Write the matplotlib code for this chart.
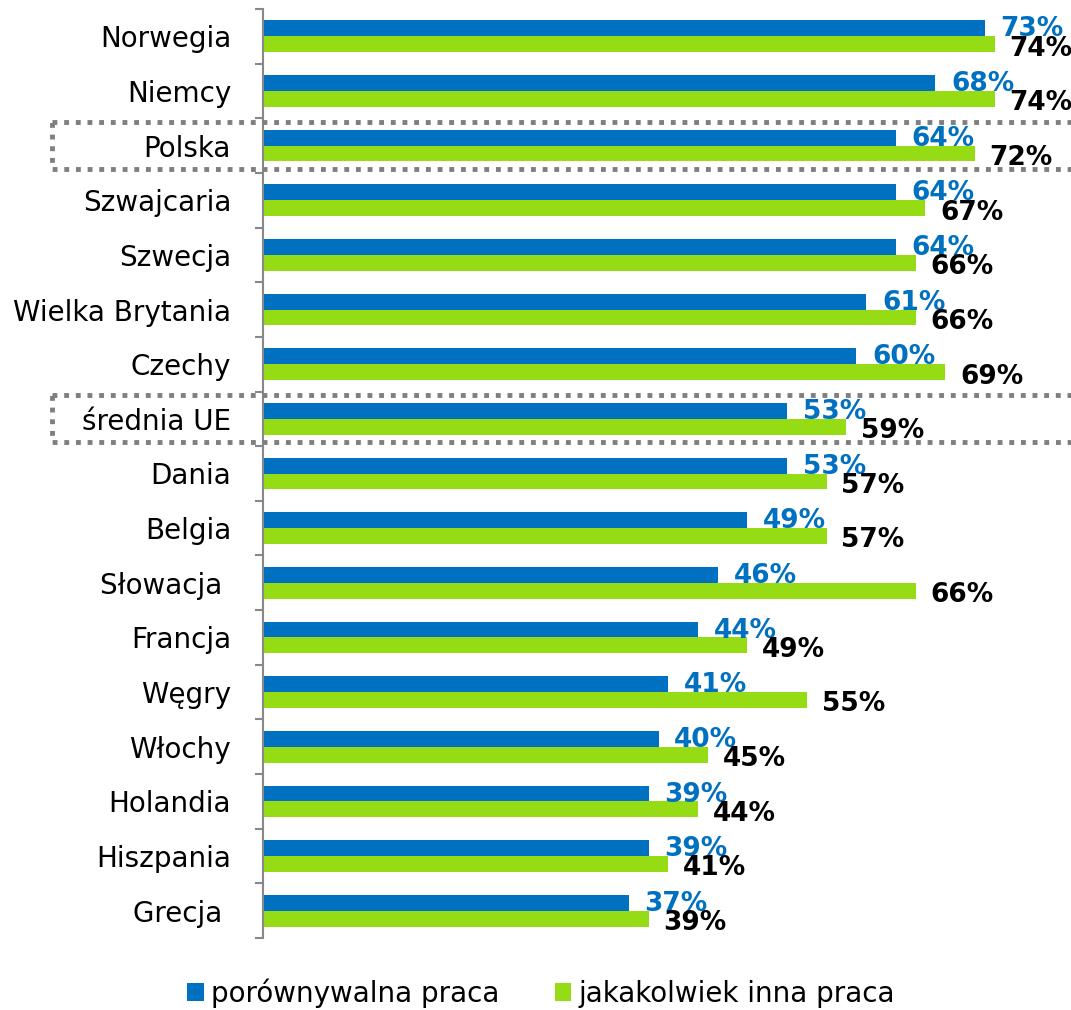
import numpy as np
import matplotlib
matplotlib.use('Agg')
import matplotlib.pyplot as plt
from matplotlib.patches import Rectangle
from matplotlib.transforms import blended_transform_factory

# dane
kraje = ['Norwegia', 'Niemcy', 'Polska', 'Szwajcaria', 'Szwecja', 'Wielka Brytania',
         'Czechy', 'średnia UE', 'Dania', 'Belgia', 'Słowacja ', 'Francja', 'Węgry',
         'Włochy', 'Holandia', 'Hiszpania', 'Grecja ']
porownywalna = [73, 68, 64, 64, 64, 61, 60, 53, 53, 49, 46, 44, 41, 40, 39, 39, 37]
inna = [74, 74, 72, 67, 66, 66, 69, 59, 57, 57, 66, 49, 55, 45, 44, 41, 39]
ramki = ['Polska', 'średnia UE']

niebieski = '#0070C0'
zielony = '#96DC14'

fig = plt.figure(figsize=(10.71, 10.10), dpi=100)
ax = fig.add_axes([263/1071, 1 - 938/1010, 791/1071, 929/1010])

y = np.arange(len(kraje))
h = 0.29
ax.barh(y - h/2, porownywalna, height=h, color=niebieski, label='porównywalna praca')
ax.barh(y + h/2, inna, height=h, color=zielony, label='jakakolwiek inna praca')

for i in range(len(kraje)):
    ax.text(porownywalna[i] + 1.6, y[i] - h/2 + 0.02, f'{porownywalna[i]}%', color=niebieski,
            fontsize=19, fontweight='bold', va='center', ha='left', clip_on=False)
    ax.text(inna[i] + 1.5, y[i] + h/2 + 0.08, f'{inna[i]}%', color='black',
            fontsize=19, fontweight='bold', va='center', ha='left', clip_on=False)

ax.set_xlim(0, 80)
ax.set_ylim(len(kraje) - 0.5, -0.5)
ax.set_yticks(y)
ax.set_yticklabels(kraje, fontsize=20)
ax.set_yticks(np.arange(-0.5, len(kraje)), minor=True)
ax.tick_params(axis='y', which='major', length=0, pad=23)
ax.tick_params(axis='y', which='minor', length=6, width=1.5, color='#888888')
ax.set_xticks([])
for s in ['top', 'right', 'bottom']:
    ax.spines[s].set_visible(False)
ax.spines['left'].set_color('#888888')
ax.spines['left'].set_linewidth(1.5)

# ramki kropkowane
tr = blended_transform_factory(fig.transFigure, ax.transData)
for k in ramki:
    i = kraje.index(k)
    r = Rectangle((52/1071, i - 0.43), 1.0, 0.86, transform=tr, fill=False,
                  edgecolor='#7f7f7f', linestyle=(0, (1, 1.4)), linewidth=3.5, clip_on=False)
    fig.add_artist(r)

fig.legend(loc='center', bbox_to_anchor=(0.505, 0.017), ncol=2, frameon=False,
           fontsize=20, handlelength=0.6, handleheight=0.6, handletextpad=0.25,
           columnspacing=2.0)

fig.savefig('out.png', dpi=100)
